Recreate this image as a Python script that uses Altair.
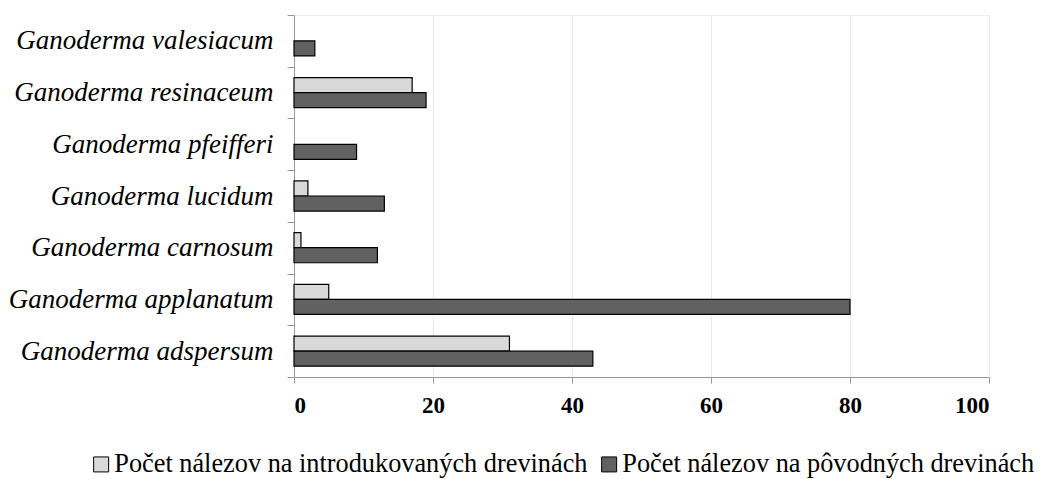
import altair as alt
import pandas as pd

species = ["Ganoderma valesiacum", "Ganoderma resinaceum", "Ganoderma pfeifferi",
           "Ganoderma lucidum", "Ganoderma carnosum", "Ganoderma applanatum",
           "Ganoderma adspersum"]
series = ["Počet nálezov na introdukovaných drevinách", "Počet nálezov na pôvodných drevinách"]
intro = [0, 17, 0, 2, 1, 5, 31]
orig = [3, 19, 9, 13, 12, 80, 43]
x_ticks = [0, 20, 40, 60, 80, 100]
colors = ["#d9d9d9", "#616161"]

rows = []
for s, a, b in zip(species, intro, orig):
    rows.append({"species": s, "series": series[0], "value": a})
    rows.append({"species": s, "series": series[1], "value": b})
df = pd.DataFrame(rows)

FONT = "Times New Roman, Liberation Serif, serif"

chart = alt.Chart(df).transform_filter("datum.value > 0").mark_bar(
    stroke="black", strokeWidth=1.2
).encode(
    x=alt.X("value:Q", scale=alt.Scale(domain=[0, 100]),
            axis=alt.Axis(values=x_ticks, title=None, grid=True, gridColor="#e8e8e8",
                          domainColor="#999999", tickColor="#999999", tickSize=6,
                          labelFont=FONT, labelFontSize=23, labelFontWeight="bold",
                          labelColor="black", labelPadding=11)),
    y=alt.Y("species:N", sort=species, scale=alt.Scale(paddingInner=0, paddingOuter=0),
            axis=alt.Axis(title=None, tickBand="extent", grid=False,
                          domainColor="#999999", tickColor="#999999", tickSize=7,
                          labelFont=FONT, labelFontSize=27, labelFontStyle="italic",
                          labelColor="black", labelPadding=14, labelLimit=0)),
    yOffset=alt.YOffset("series:N", sort=series,
                        scale=alt.Scale(paddingInner=0, paddingOuter=0.72)),
    color=alt.Color("series:N", sort=series,
                    scale=alt.Scale(domain=series, range=colors),
                    legend=alt.Legend(title=None, orient="none", direction="horizontal",
                                      legendX=-206, legendY=436,
                                      symbolType="square", symbolSize=225,
                                      symbolStrokeColor="black", symbolStrokeWidth=1,
                                      labelFont=FONT, labelFontSize=26.3, labelColor="black",
                                      labelLimit=0, columnPadding=8, labelOffset=0)),
).properties(
    width=695, height=362,
    autosize=alt.AutoSizeParams(type="none"),
    padding={"left": 294, "top": 15, "right": 62, "bottom": 102},
).configure(font=FONT).configure_view(stroke="#eeeeee")

chart.save("out.html", embed_options={"renderer": "svg", "actions": False})
